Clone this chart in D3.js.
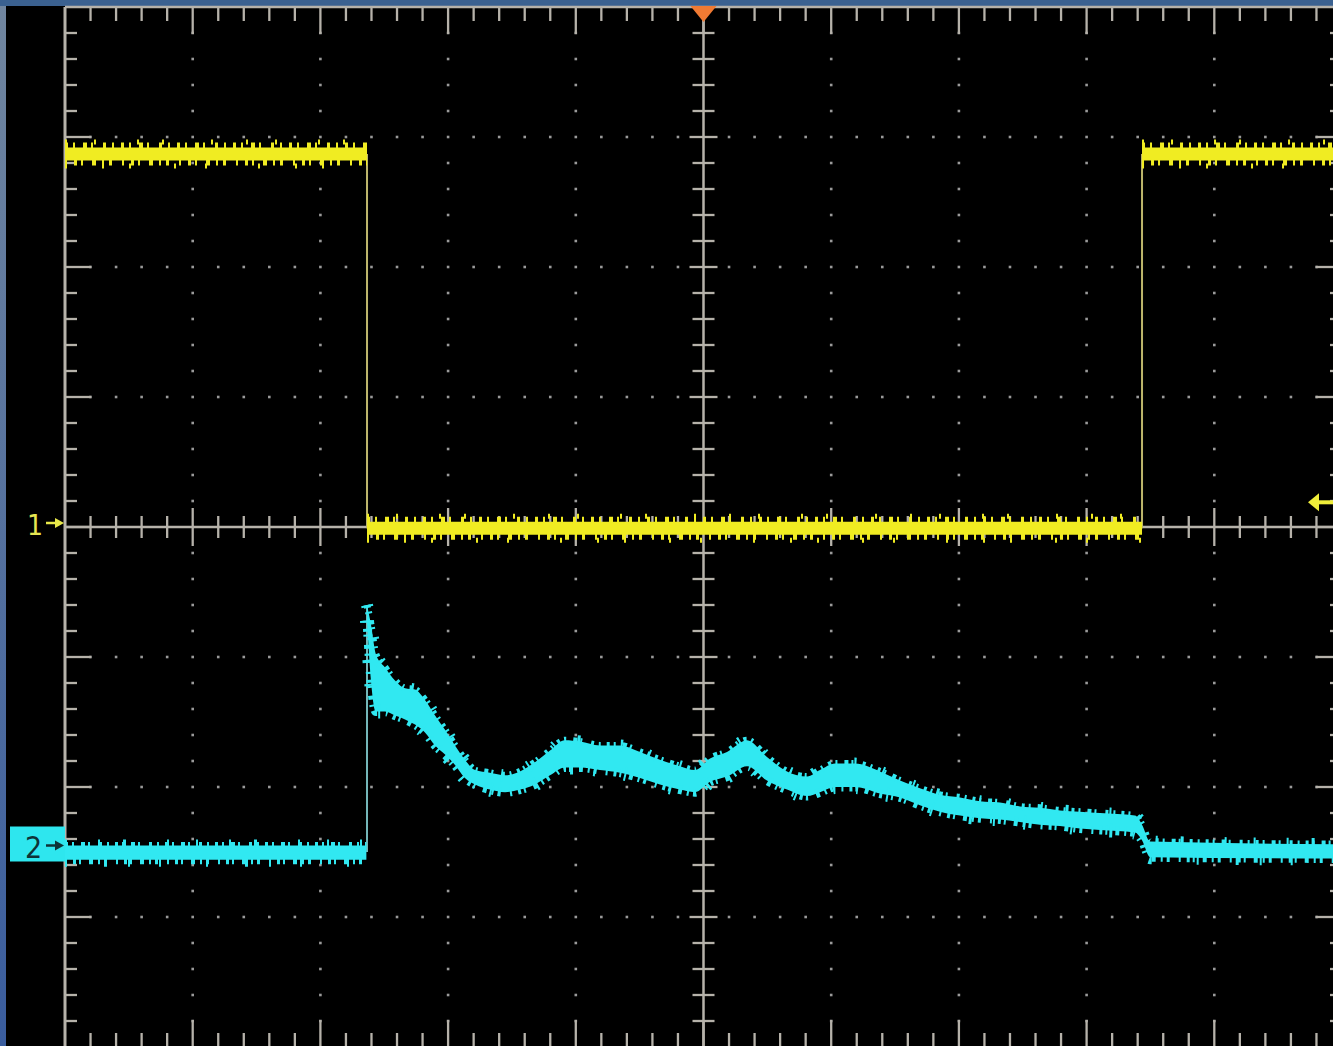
<!DOCTYPE html>
<html><head><meta charset="utf-8">
<script src="https://cdn.jsdelivr.net/npm/d3@7"></script>
<style>html,body{margin:0;padding:0;background:#000;overflow:hidden}</style>
</head><body>
<svg id="c" width="1333" height="1046"></svg>
<script>
// ---------------- DATA (screen divisions: time -5..5, value -4..4) ----------------
const channelLabels = ["1", "2"];
const ch1Ref = 0.0;        // channel 1 ground marker
const ch2Ref = -2.45;      // channel 2 ground marker
const trigLevel = 0.19;    // trigger level marker (right side)

// Channel 1 (yellow square wave)
const ch1T = [-5.0, -2.635, -2.635, 3.434, 3.434, 5.0];
const ch1V = [2.87, 2.87, -0.01, -0.01, 2.87, 2.87];

// Channel 2 (cyan) baseline before the edge
const ch2BaseT = [-5.0, -2.64];
const ch2BaseTop = [-2.45, -2.45];
const ch2BaseBot = [-2.56, -2.56];
// Channel 2 jump at the edge
const ch2EdgeT = -2.635;
const ch2EdgeV = [-2.5, -0.60];
// Channel 2 envelope after the edge
const ch2T = [-2.635, -2.604, -2.565, -2.494, -2.416, -2.337, -2.259, -2.181, -2.102, -2.024, -1.946, -1.868, -1.789, -1.672, -1.554, -1.437, -1.320, -1.202, -1.085, -0.967, -0.811, -0.654, -0.497, -0.341, -0.184, -0.067, 0.051, 0.184, 0.341, 0.497, 0.654, 0.811, 0.912, 1.030, 1.186, 1.382, 1.539, 1.695, 1.852, 2.009, 2.165, 2.322, 2.478, 2.635, 2.792, 2.948, 3.105, 3.379, 3.434, 3.497, 5.0];
const ch2Top = [-0.60, -0.75, -0.98, -1.08, -1.18, -1.24, -1.25, -1.33, -1.45, -1.56, -1.68, -1.79, -1.87, -1.89, -1.91, -1.88, -1.81, -1.72, -1.64, -1.65, -1.68, -1.68, -1.73, -1.79, -1.84, -1.87, -1.78, -1.73, -1.64, -1.77, -1.88, -1.92, -1.87, -1.82, -1.82, -1.88, -1.95, -2.01, -2.06, -2.08, -2.11, -2.12, -2.15, -2.16, -2.18, -2.19, -2.20, -2.22, -2.29, -2.42, -2.44];
const ch2Bot = [-0.72, -1.18, -1.42, -1.42, -1.45, -1.48, -1.52, -1.58, -1.68, -1.75, -1.83, -1.93, -1.98, -2.02, -2.04, -2.02, -1.98, -1.91, -1.85, -1.85, -1.87, -1.89, -1.93, -1.98, -2.02, -2.04, -1.96, -1.92, -1.84, -1.95, -2.02, -2.07, -2.04, -2.00, -2.00, -2.05, -2.08, -2.14, -2.19, -2.22, -2.24, -2.25, -2.27, -2.29, -2.30, -2.32, -2.33, -2.35, -2.41, -2.54, -2.55];

// Graticule
const xMinor = d3.range(-25, 26).map(i => i / 5);
const yMinor = d3.range(-20, 21).map(i => i / 5);
const xMajor = d3.range(-4, 5);
const yMajor = d3.range(-3, 4);

// ---------------- DRAW ----------------
const W = 1333, H = 1046;
const svg = d3.select("#c");
const x = d3.scaleLinear().domain([-5, 5]).range([65, 1342]);
const y = d3.scaleLinear().domain([-4, 4]).range([1047, 7]);
const GC = "#b6b2aa";
const YEL = "#f0ec22";
const CYA = "#31e8f1";

const defs = svg.append("defs");
const lg = defs.append("linearGradient").attr("id", "lb").attr("x1", 0).attr("y1", 0).attr("x2", 0).attr("y2", 1);
lg.append("stop").attr("offset", "0%").attr("stop-color", "#71869f");
lg.append("stop").attr("offset", "100%").attr("stop-color", "#3a5d9e");

svg.append("rect").attr("width", W).attr("height", H).attr("fill", "#000");
svg.append("rect").attr("x", 0).attr("y", 0).attr("width", 6).attr("height", H).attr("fill", "url(#lb)");
svg.append("rect").attr("x", 0).attr("y", 0).attr("width", W).attr("height", 6).attr("fill", "#3b6190");

const isInt = v => Math.abs(v - Math.round(v)) < 1e-6;

// dots
const dots = svg.append("g").attr("fill", "#9a9a9a");
xMajor.filter(t => t !== 0).forEach(t => {
  yMinor.filter(v => Math.abs(v) < 3.99 && v !== 0).forEach(v => {
    dots.append("rect").attr("x", x(t) - 1.3).attr("y", y(v) - 1.3).attr("width", 2.6).attr("height", 2.6);
  });
});
yMajor.filter(v => v !== 0).forEach(v => {
  xMinor.filter(t => Math.abs(t) < 4.99 && !isInt(t)).forEach(t => {
    dots.append("rect").attr("x", x(t) - 1.3).attr("y", y(v) - 1.3).attr("width", 2.6).attr("height", 2.6);
  });
});

// lines
const gl = svg.append("g").attr("stroke", GC).attr("fill", "none");
gl.append("line").attr("x1", x(-5)).attr("x2", x(-5)).attr("y1", y(4)).attr("y2", y(-4)).attr("stroke-width", 3);
gl.append("line").attr("x1", x(-5)).attr("x2", x(5)).attr("y1", y(4)).attr("y2", y(4)).attr("stroke-width", 2.5);
gl.append("line").attr("x1", x(-5)).attr("x2", x(5)).attr("y1", y(0)).attr("y2", y(0)).attr("stroke-width", 2.5);
gl.append("line").attr("x1", x(0)).attr("x2", x(0)).attr("y1", y(4)).attr("y2", y(-4)).attr("stroke-width", 2.5);

const tk = svg.append("g").attr("stroke", GC).attr("stroke-width", 2.3);
xMinor.forEach(t => {
  if (Math.abs(t) > 4.99) return;
  const maj = isInt(t);
  tk.append("line").attr("x1", x(t)).attr("x2", x(t)).attr("y1", y(4)).attr("y2", y(4) + (maj ? 27 : 14));
  tk.append("line").attr("x1", x(t)).attr("x2", x(t)).attr("y1", y(-4)).attr("y2", y(-4) - (maj ? 27 : 14));
  if (t !== 0) tk.append("line").attr("x1", x(t)).attr("x2", x(t)).attr("y1", y(0) - (maj ? 19 : 11)).attr("y2", y(0) + (maj ? 19 : 11));
});
yMinor.forEach(v => {
  if (Math.abs(v) > 3.99) return;
  const maj = isInt(v);
  tk.append("line").attr("x1", x(-5)).attr("x2", x(-5) + (maj ? 26 : 12)).attr("y1", y(v)).attr("y2", y(v));
  tk.append("line").attr("x1", x(5)).attr("x2", x(5) - (maj ? 26 : 12)).attr("y1", y(v)).attr("y2", y(v));
  if (v !== 0) tk.append("line").attr("x1", x(0) - (maj ? 14 : 11)).attr("x2", x(0) + (maj ? 14 : 11)).attr("y1", y(v)).attr("y2", y(v));
});

// ---------------- CHANNEL 1 ----------------
const c1 = svg.append("g");
for (let i = 1; i < ch1T.length; i++) {
  const a = [ch1T[i - 1], ch1V[i - 1]], b = [ch1T[i], ch1V[i]];
  if (a[0] === b[0]) {
    c1.append("line").attr("x1", x(a[0])).attr("x2", x(b[0])).attr("y1", y(a[1])).attr("y2", y(b[1]))
      .attr("stroke", "#bdb66c").attr("stroke-width", 2);
  }
}
for (let i = 1; i < ch1T.length; i++) {
  const a = [ch1T[i - 1], ch1V[i - 1]], b = [ch1T[i], ch1V[i]];
  if (a[0] !== b[0]) {
    const ln = (sw, da, op, dy) => c1.append("line").attr("x1", x(a[0])).attr("x2", x(b[0]))
      .attr("y1", y(a[1]) + dy).attr("y2", y(b[1]) + dy)
      .attr("stroke", YEL).attr("stroke-width", sw).attr("stroke-dasharray", da).attr("opacity", op);
    ln(13, null, 1, 0);
    ln(7, "3 5 2 8 4 4 2 10 3 6 2 7", 1, -8);
    ln(7, "2 7 3 4 2 9 4 6 2 5 3 10", 1, 8);
    ln(5, "2 27 2 41 2 23 2 47 2 33", 1, -12);
    ln(5, "2 35 2 25 2 43 2 29 2 51", 1, 12);
  }
}

// ---------------- CHANNEL 2 ----------------
const c2 = svg.append("g");
c2.append("line").attr("x1", x(ch2EdgeT)).attr("x2", x(ch2EdgeT)).attr("y1", y(ch2EdgeV[0])).attr("y2", y(ch2EdgeV[1]))
  .attr("stroke", "#74b6b8").attr("stroke-width", 2);

function band(T, TOP, BOT) {
  const d = T.map((t, i) => ({ t, a: TOP[i], b: BOT[i] }));
  const area = d3.area().x(p => x(p.t)).y0(p => y(p.b)).y1(p => y(p.a)).curve(d3.curveMonotoneX);
  c2.append("path").attr("d", area(d)).attr("fill", CYA);
  const top = d3.line().x(p => x(p.t)).y(p => y(p.a)).curve(d3.curveMonotoneX);
  const bot = d3.line().x(p => x(p.t)).y(p => y(p.b)).curve(d3.curveMonotoneX);
  c2.append("path").attr("d", top(d)).attr("fill", "none").attr("stroke", CYA).attr("stroke-width", 7)
    .attr("stroke-dasharray", "3 4 2 7 4 3 2 9 3 5 2 6");
  c2.append("path").attr("d", bot(d)).attr("fill", "none").attr("stroke", CYA).attr("stroke-width", 9)
    .attr("stroke-dasharray", "2 6 3 3 2 8 4 5 2 4 3 9");
  c2.append("path").attr("d", top(d)).attr("fill", "none").attr("stroke", CYA).attr("stroke-width", 12)
    .attr("stroke-dasharray", "2 31 2 23 3 41 2 27");
  c2.append("path").attr("d", bot(d)).attr("fill", "none").attr("stroke", CYA).attr("stroke-width", 14)
    .attr("stroke-dasharray", "2 37 3 21 2 29 2 45");
}
band(ch2BaseT, ch2BaseTop, ch2BaseBot);
band(ch2T, ch2Top, ch2Bot);

// ---------------- MARKERS ----------------
const mk = svg.append("g");
mk.append("text").attr("x", 27).attr("y", y(ch1Ref) + 8).attr("font-family", "DejaVu Sans Condensed, DejaVu Sans, sans-serif")
  .attr("font-weight", 300).attr("font-size", 28).attr("fill", "#e6e652").text(channelLabels[0]);
const arrowR = (yy, col) => {
  mk.append("line").attr("x1", 46).attr("x2", 57).attr("y1", yy).attr("y2", yy).attr("stroke", col).attr("stroke-width", 2.5);
  mk.append("path").attr("d", `M55,${yy - 5}L64,${yy}L55,${yy + 5}Z`).attr("fill", col);
};
arrowR(y(ch1Ref) - 4, "#e8e84a");
mk.append("rect").attr("x", 10).attr("y", y(ch2Ref) - 19).attr("width", 55).attr("height", 35).attr("fill", "#2ee6ee");
mk.append("text").attr("x", 25).attr("y", y(ch2Ref) + 12).attr("font-family", "DejaVu Sans Condensed, DejaVu Sans, sans-serif")
  .attr("font-size", 30).attr("fill", "#0e3337").text(channelLabels[1]);
arrowR(y(ch2Ref), "#0e3337");
mk.append("line").attr("x1", 1316).attr("x2", 1333).attr("y1", y(trigLevel)).attr("y2", y(trigLevel)).attr("stroke", "#f0ee3a").attr("stroke-width", 4);
mk.append("path").attr("d", `M1308,${y(trigLevel)}L1319,${y(trigLevel) - 9}L1319,${y(trigLevel) + 9}Z`).attr("fill", "#f0ee3a");
mk.append("path").attr("d", `M${x(0) - 13},6L${x(0) + 13},6L${x(0)},22Z`).attr("fill", "#f07a33");
</script>
</body></html>
